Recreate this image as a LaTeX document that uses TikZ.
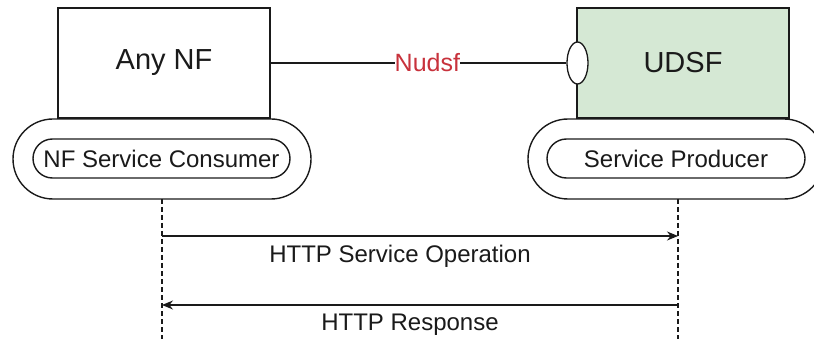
\documentclass[tikz,border=0pt]{standalone}
\usepackage{fontspec}
\setmainfont{Liberation Sans}
\usetikzlibrary{arrows.meta,shapes.geometric}
\definecolor{udsfgreen}{HTML}{D5E8D4}
\definecolor{ink}{HTML}{1A1A1A}
\definecolor{ifred}{HTML}{C8323C}
\begin{document}
\begin{tikzpicture}[x=1pt,y=-1pt,
  nfbox/.style={draw=ink, line width=1.4pt, rectangle, minimum width=212pt, minimum height=110pt, inner sep=0pt, font=\fontsize{29}{32}\selectfont, text=ink},
  outerpill/.style={draw=ink, line width=1.4pt, rectangle, rounded corners=40pt, minimum height=80pt, inner sep=0pt},
  innerpill/.style={draw=ink, line width=1.4pt, rectangle, rounded corners=19.5pt, minimum height=39pt, inner sep=0pt, font=\fontsize{24}{27}\selectfont, text=ink},
  lifeline/.style={draw=ink, line width=1.1pt, dash pattern=on 5pt off 3pt},
  msg/.style={draw=ink, line width=1.3pt, -{Stealth[length=11pt,width=9pt]}},
  msglabel/.style={font=\fontsize{24}{27}\selectfont, text=ink}
]
\useasboundingbox (0,0) rectangle (814,339);
\clip (0,0) rectangle (814,339);
% boxes
\node[nfbox] (anynf) at (164,63) {Any NF};
\node[nfbox, fill=udsfgreen] (udsf) at (683,63) {UDSF};
% consumer / producer pills
\node[outerpill, minimum width=298pt] (cons) at (162,159) {};
\node[innerpill, minimum width=257pt] (consin) at (161.5,158.5) {NF Service Consumer};
\node[outerpill, minimum width=296pt] (prod) at (676,159) {};
\node[innerpill, minimum width=258pt] (prodin) at (676,158.5) {Service Producer};
% interface
\node[draw=ink, line width=1.3pt, fill=white, ellipse, minimum width=21pt, minimum height=42pt, inner sep=0pt] (port) at (577.5,63) {};
\draw[draw=ink, line width=2.5pt] (anynf.east) -- (port.west)
  node[pos=0.53, fill=white, inner sep=0pt, text=ifred, font=\fontsize{25}{28}\selectfont] (nudsf) {Nudsf};
% lifelines
\coordinate (ltop) at (162,199);
\coordinate (lbot) at (162,339);
\coordinate (rtop) at (678,199);
\coordinate (rbot) at (678,339);
\draw[lifeline] (ltop) -- (lbot);
\draw[lifeline] (rtop) -- (rbot);
% messages
\coordinate (m1s) at (162,236);
\coordinate (m1e) at (678,236);
\coordinate (m2s) at (678,305);
\coordinate (m2e) at (162,305);
\draw[msg] (m1s) -- (m1e);
\draw[msg] (m2s) -- (m2e);
\node[msglabel] (l1) at (400,256) {HTTP Service Operation};
\node[msglabel] (l2) at (410,325) {HTTP Response};
\end{tikzpicture}
\end{document}
